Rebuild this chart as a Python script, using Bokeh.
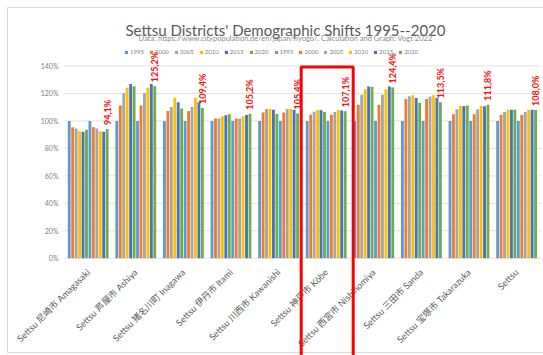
import math
from bokeh.plotting import figure
from bokeh.models import ColumnDataSource, Range1d, Legend, LegendItem
from bokeh.transform import dodge
from bokeh.core.properties import value
from bokeh.embed import file_html
from bokeh.resources import INLINE

# ---------------- data ----------------
districts = [
    "Settsu 尼崎市 Amagasaki", "Settsu 芦屋市 Ashiya", "Settsu 猪名川町 Inagawa",
    "Settsu 伊丹市 Itami", "Settsu 川西市 Kawanishi", "Settsu 神戸市 Kōbe",
    "Settsu 西宮市 Nishinomiya", "Settsu 三田市 Sanda", "Settsu 宝塚市 Takarazuka",
    "Settsu",
]
years = ["1995", "2000", "2005", "2010", "2015", "2020"]
highlight = "Settsu 神戸市 Kōbe"

# first block of six bars (index, 1995 = 100 %)
a1995 = [100, 100, 100, 100, 100, 100, 100, 100, 100, 100]
a2000 = [95.3, 111.3, 107.2, 101.7, 106.2, 104.5, 111.8, 115.9, 104.8, 104.3]
a2005 = [94.5, 120.3, 110.1, 101.7, 108.6, 106.7, 119.1, 117.9, 108.4, 106.5]
a2010 = [92.4, 124.2, 116.9, 103.3, 108.6, 107.9, 123.0, 118.6, 110.8, 108.2]
a2015 = [92.1, 126.9, 113.5, 104.1, 108.2, 107.7, 125.0, 116.7, 110.8, 108.2]
a2020 = [93.6, 125.2, 109.1, 104.8, 105.0, 106.5, 124.6, 113.3, 111.3, 108.2]

# second block of six bars
b1995 = [100, 100, 100, 100, 100, 100, 100, 100, 100, 100]
b2000 = [95.3, 111.3, 107.2, 101.8, 106.2, 104.5, 111.8, 115.9, 104.8, 104.3]
b2005 = [94.5, 120.3, 110.1, 101.8, 108.6, 106.5, 119.1, 117.7, 108.4, 106.5]
b2010 = [92.4, 124.2, 116.9, 103.4, 108.6, 107.9, 123.0, 118.6, 110.8, 108.2]
b2015 = [92.1, 126.9, 113.5, 104.3, 108.2, 107.5, 125.0, 116.9, 110.6, 108.2]
b2020 = [94.1, 125.2, 109.4, 105.2, 105.4, 107.1, 124.4, 113.5, 111.8, 108.0]

y_ticks = [0, 20, 40, 60, 80, 100, 120, 140]

title = "Settsu Districts' Demographic Shifts 1995--2020"
subtitle = "Data:  https://www.citypopulation.de/en/japan/hyogo/. Calculation and Graph: Vogt 2022"

# ---------------- styling / layout ----------------
colors = ["#5B9BD5", "#ED7D31", "#A5A5A5", "#FFC000", "#4472C4", "#70AD47"]
FONT = "Lato, 'Noto Sans CJK JP', sans-serif"
W, H = 543, 355
PLOT_LEFT = 63.9        # left edge of plotting area (px)
PLOT_RIGHT = 541        # right end of grid lines (px)
Y0_PX = 257.7           # pixel row of 0 %
PX_PER_PCT = 1.373
GROUP_PX = 47.6
BAR_PX = 3.45


def ydata(px):
    return (Y0_PX - px) / PX_PER_PCT


def xdata(px):
    return (px - PLOT_LEFT) / GROUP_PX


series = [a1995, a2000, a2005, a2010, a2015, a2020,
          b1995, b2000, b2005, b2010, b2015, b2020]
names = ["a" + y for y in years] + ["b" + y for y in years]
data = {"district": districts, "xc": [i + 0.5 for i in range(len(districts))]}
for n, s in zip(names, series):
    data[n] = s
data["label"] = [("%.1f" % v).replace(".", ",") + "%" for v in b2020]
src = ColumnDataSource(data)

p = figure(width=W, height=H, x_range=Range1d(xdata(0), xdata(W)),
           y_range=Range1d(ydata(H), ydata(0)),
           output_backend="svg", toolbar_location=None,
           min_border_left=0, min_border_right=0, min_border_top=0, min_border_bottom=0)
p.outline_line_color = None
p.xaxis.visible = False
p.yaxis.visible = False
p.xgrid.visible = False
p.ygrid.visible = False

# chart area border
p.quad(left=[xdata(7)], right=[xdata(W + 20)], top=[ydata(7)], bottom=[ydata(352)],
       fill_color=None, line_color="#D9D9D9", line_width=1)

# horizontal gridlines and y tick labels
p.segment(x0=xdata(PLOT_LEFT), x1=xdata(PLOT_RIGHT), y0=y_ticks, y1=y_ticks,
          line_color="#E3E3E3", line_width=1)
p.text(x=[xdata(58)] * len(y_ticks), y=y_ticks, text=["%d%%" % t for t in y_ticks],
       text_align="right", text_baseline="middle", text_color="#7F7F7F",
       text_font_size="7px", text_font=value(FONT))

half = 6 * BAR_PX
bar_pitch = BAR_PX / GROUP_PX
bar_w = 2.85 / GROUP_PX
renderers = []
for k, n in enumerate(names):
    off = -half / GROUP_PX + bar_pitch * (k + 0.5)
    r = p.vbar(x=dodge("xc", off), top=n, width=bar_w, bottom=0,
               source=src, fill_color=colors[k % 6], line_color=None)
    renderers.append(r)

# data labels above the last bar
last_off = -half / GROUP_PX + bar_pitch * 11.5
p.text(x=dodge("xc", last_off), y="b2020", text="label", source=src,
       angle=math.pi / 2, text_align="left", text_baseline="middle", y_offset=-4,
       text_color="#FF1010", text_font_size="9px", text_font_style="bold",
       text_font=value(FONT))

# category labels (rotated)
p.text(x="xc", y=ydata(270), text="district", source=src, x_offset=0,
       angle=math.pi / 4, text_align="right", text_baseline="middle",
       text_color="#595959", text_font_size="9px", text_font=value(FONT))

# highlight box round Kōbe
hi = districts.index(highlight) + 0.5
p.quad(left=[hi - 25.0 / GROUP_PX], right=[hi + 27.0 / GROUP_PX], top=[ydata(66.5)],
       bottom=[ydata(H + 10)], fill_color=None, line_color="#FF0000", line_width=3)

# titles
p.text(x=[xdata(285)], y=[ydata(29)], text=[title], text_align="center",
       text_baseline="alphabetic", text_color="#595959", text_font_size="15px",
       text_font=value(FONT))
p.text(x=[xdata(286)], y=[ydata(37.5)], text=[subtitle], text_align="center",
       text_baseline="alphabetic", text_color="#8C8C8C", text_font_size="7.5px",
       text_font=value(FONT))

# legend
items = [LegendItem(label=(years * 2)[k], renderers=[renderers[k]]) for k in range(12)]
legend = Legend(items=items, orientation="horizontal", location=(124, H - 55),
                glyph_width=4, glyph_height=4, label_standoff=2, label_width=12,
                label_height=6, spacing=5, padding=0, margin=0,
                border_line_color=None, background_fill_alpha=0,
                label_text_font_size="6px", label_text_color="#7F7F7F",
                label_text_font=FONT)
p.add_layout(legend)

open("out.html", "w").write(file_html(p, INLINE))
